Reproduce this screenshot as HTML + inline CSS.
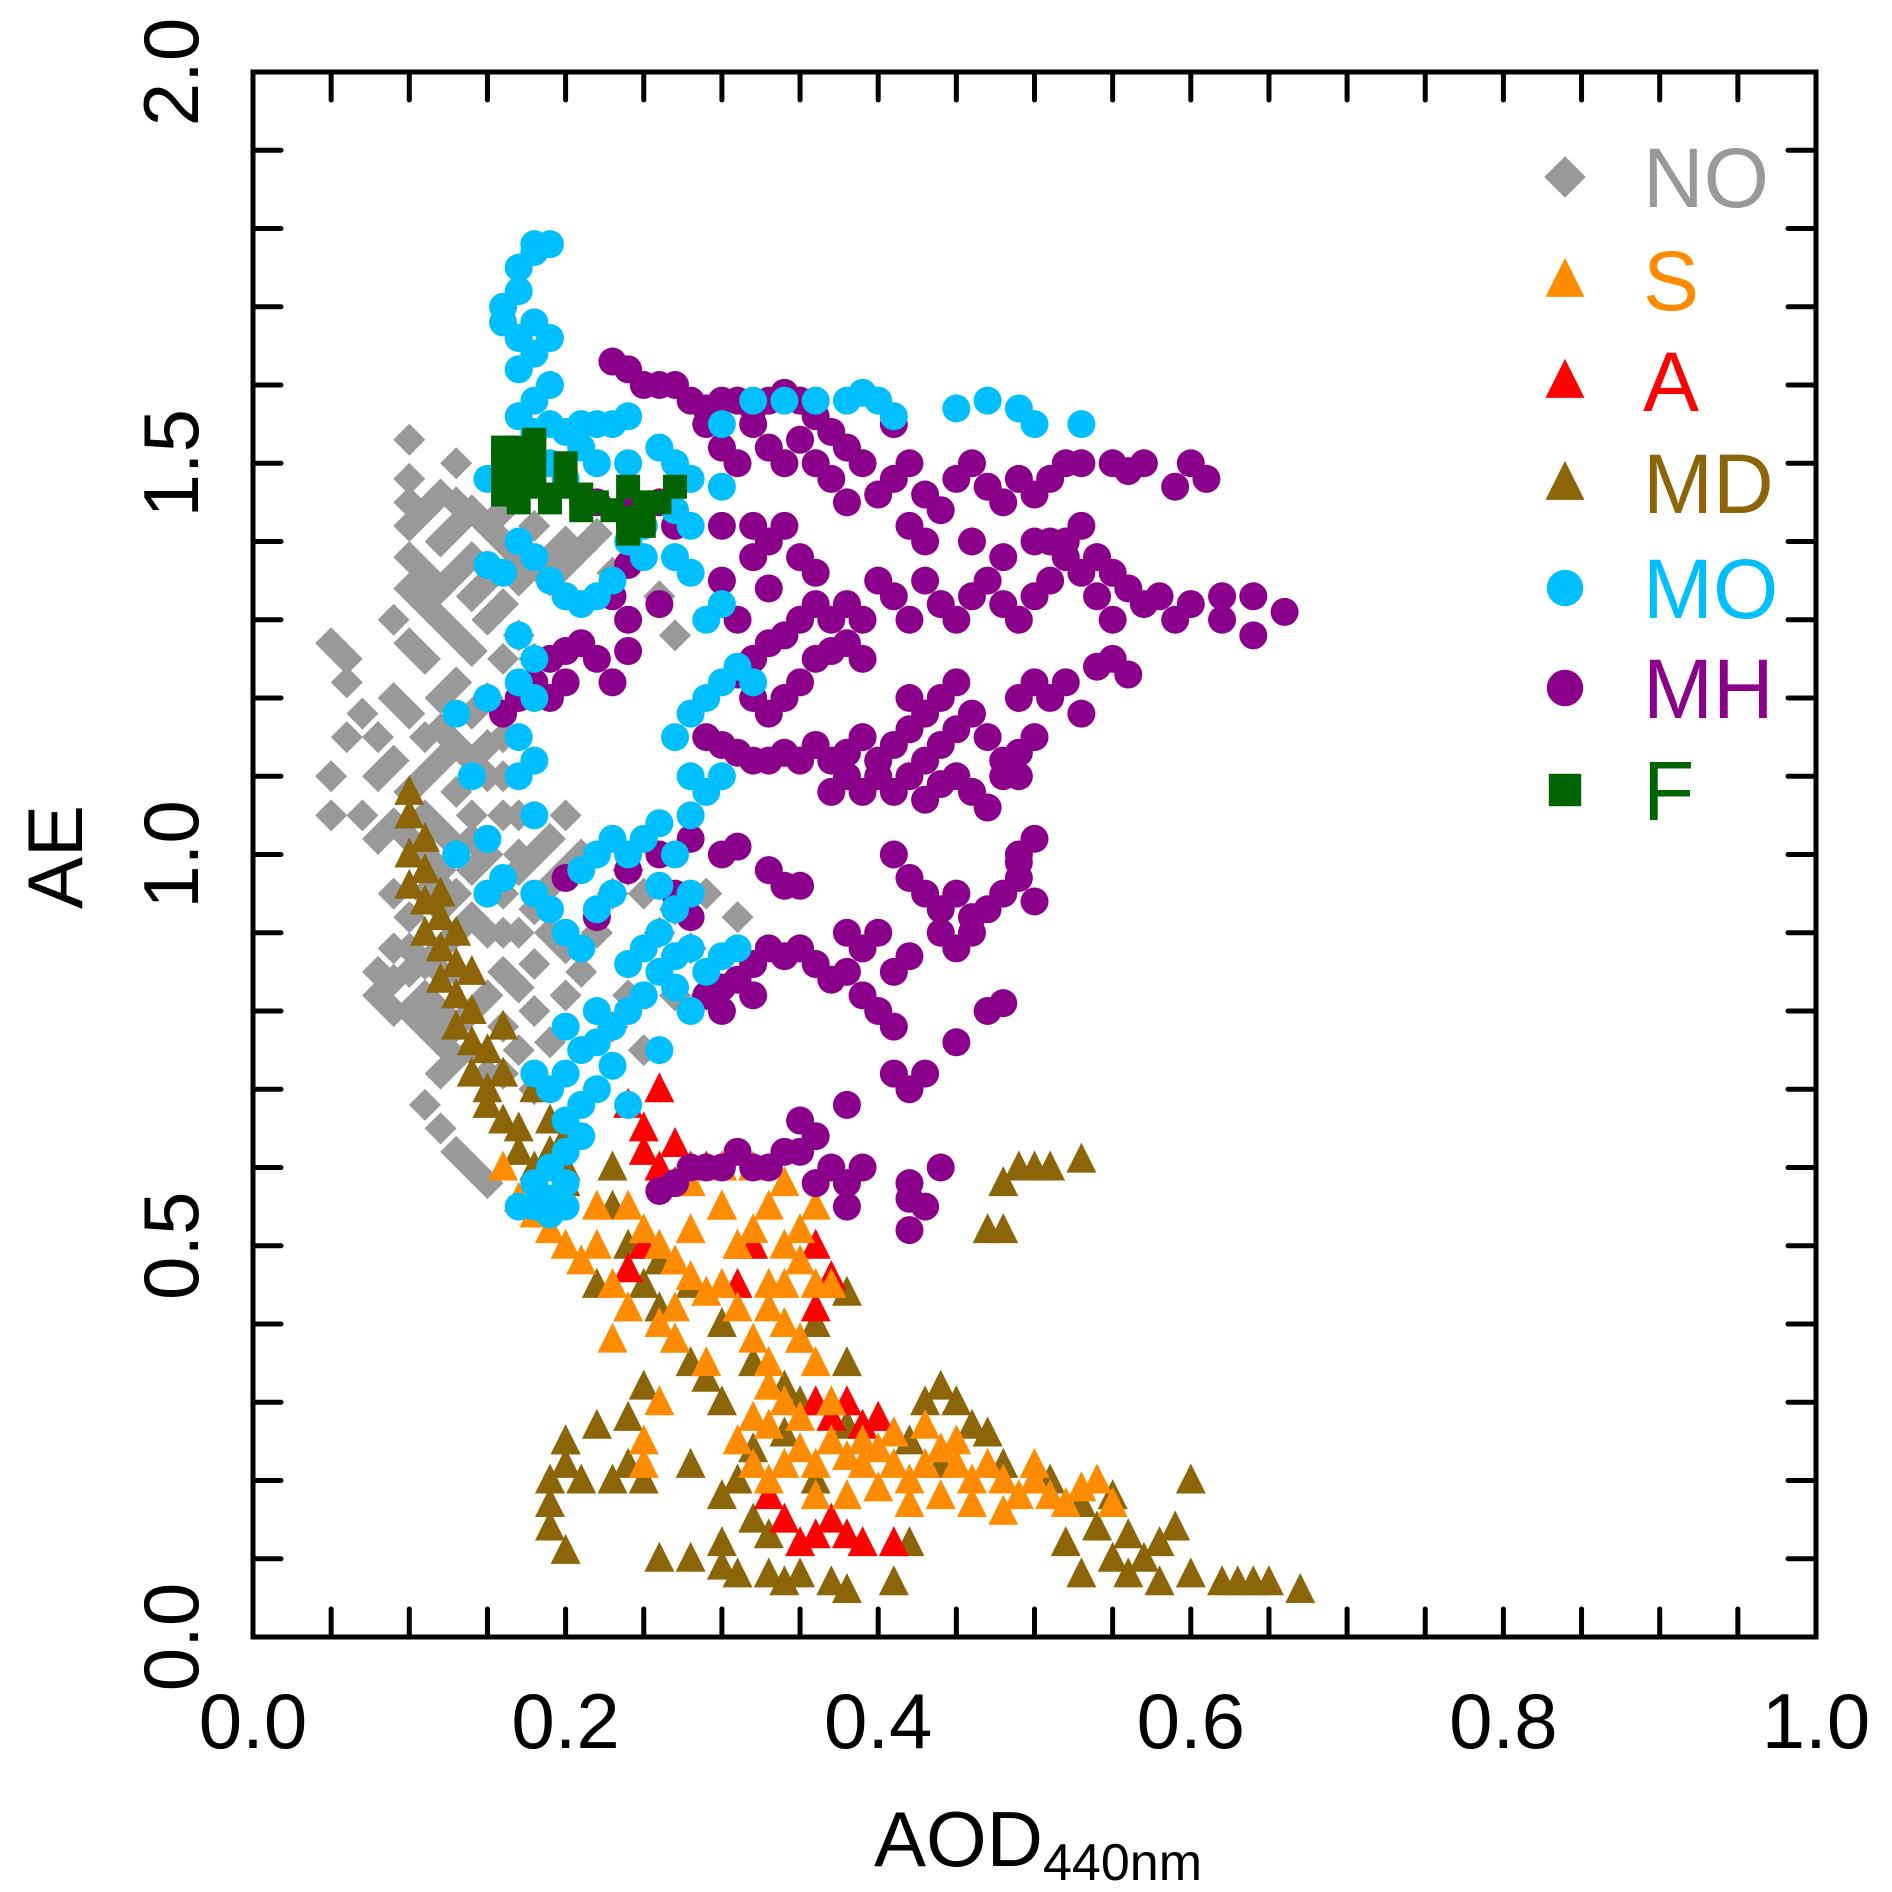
<!DOCTYPE html>
<html><head><meta charset="utf-8"><style>
html,body{margin:0;padding:0;background:#fff;}
svg{display:block;font-family:"Liberation Sans",Arial,sans-serif;}
</style></head><body>
<svg id="chart" width="1892" height="1892" viewBox="0 0 1892 1892" xmlns="http://www.w3.org/2000/svg">
<g id="marks"></g>
<g id="axes"></g>
<g id="legend"></g>
<text x="0" y="0" transform="translate(82,857) rotate(-90)" text-anchor="middle" font-size="78">AE</text>
<text x="1038" y="1866" text-anchor="middle" font-size="78">AOD<tspan font-size="52" dy="14">440nm</tspan></text>
</svg>
<script>
const xTicks=["0.0","0.2","0.4","0.6","0.8","1.0"];
const xTickVals=[0,0.2,0.4,0.6,0.8,1.0];
const yTicks=["0.0","0.5","1.0","1.5","2.0"];
const yTickVals=[0,0.5,1.0,1.5,2.0];
const seriesNames=["NO","S","A","MD","MO","MH","F"];
const noData=[[0.1,1.53],[0.1,1.48],[0.1,1.45],[0.1,1.42],[0.1,1.38],[0.1,1.34],[0.09,1.3],[0.1,1.27],[0.11,1.44],[0.12,1.46],[0.13,1.45],[0.14,1.44],[0.15,1.42],[0.16,1.4],[0.17,1.38],[0.18,1.37],[0.19,1.38],[0.2,1.4],[0.21,1.39],[0.22,1.41],[0.23,1.36],[0.12,1.4],[0.13,1.36],[0.14,1.33],[0.15,1.3],[0.16,1.32],[0.17,1.28],[0.18,1.25],[0.12,1.3],[0.11,1.25],[0.12,1.2],[0.13,1.22],[0.14,1.18],[0.15,1.2],[0.16,1.15],[0.1,1.18],[0.09,1.2],[0.08,1.15],[0.07,1.18],[0.06,1.22],[0.05,1.27],[0.06,1.25],[0.05,1.1],[0.05,1.05],[0.07,1.05],[0.08,1.1],[0.06,1.15],[0.09,1.12],[0.1,1.08],[0.11,1.1],[0.12,1.12],[0.13,1.08],[0.14,1.05],[0.15,1.1],[0.16,1.05],[0.15,1.0],[0.14,0.98],[0.12,0.98],[0.11,1.0],[0.1,1.02],[0.09,1.04],[0.08,1.02],[0.09,0.95],[0.1,0.92],[0.12,0.93],[0.13,0.9],[0.14,0.92],[0.16,0.95],[0.17,0.98],[0.18,1.0],[0.19,1.02],[0.2,0.98],[0.18,0.93],[0.19,0.9],[0.2,0.88],[0.21,0.85],[0.22,0.9],[0.23,0.95],[0.24,0.98],[0.25,0.95],[0.26,0.9],[0.27,0.93],[0.29,0.95],[0.31,0.92],[0.28,0.88],[0.27,0.82],[0.29,0.82],[0.24,0.82],[0.23,0.78],[0.25,0.75],[0.08,0.85],[0.09,0.8],[0.1,0.85],[0.11,0.82],[0.09,0.88],[0.12,0.8],[0.13,0.78],[0.14,0.8],[0.15,0.82],[0.16,0.85],[0.17,0.83],[0.18,0.8],[0.16,0.78],[0.14,0.75],[0.15,0.72],[0.12,0.72],[0.11,0.68],[0.12,0.65],[0.13,0.62],[0.14,0.6],[0.15,0.58],[0.18,0.7],[0.12,0.88],[0.13,0.85],[0.18,0.86],[0.2,0.82],[0.19,0.76],[0.2,1.05],[0.16,1.25],[0.17,1.35],[0.27,1.28],[0.26,1.33],[0.13,1.5],[0.21,1.0],[0.08,0.82],[0.11,1.36],[0.11,1.32],[0.12,1.34],[0.13,1.28],[0.14,1.26],[0.13,1.42],[0.14,1.38],[0.15,1.35],[0.11,1.15],[0.12,1.16],[0.13,1.14],[0.14,1.12],[0.15,1.14],[0.11,1.05],[0.12,1.03],[0.13,1.01],[0.14,1.02],[0.11,0.95],[0.12,0.96],[0.13,0.95],[0.15,0.9],[0.16,0.9],[0.17,0.9],[0.1,0.88],[0.11,0.86],[0.12,0.85],[0.1,0.8],[0.11,0.78],[0.13,0.74],[0.12,0.76],[0.17,0.75],[0.16,0.72],[0.09,0.84],[0.19,0.96],[0.17,1.0],[0.16,1.1],[0.17,1.05],[0.19,1.35],[0.2,1.37],[0.18,1.42],[0.16,1.44]];
const mdData=[[0.1,1.08],[0.1,1.05],[0.11,1.02],[0.1,1.0],[0.11,0.98],[0.1,0.96],[0.11,0.94],[0.12,0.92],[0.11,0.9],[0.12,0.88],[0.13,0.86],[0.12,0.84],[0.13,0.82],[0.14,0.8],[0.13,0.78],[0.14,0.76],[0.15,0.75],[0.14,0.72],[0.15,0.7],[0.16,0.72],[0.15,0.68],[0.16,0.66],[0.17,0.65],[0.17,0.62],[0.18,0.6],[0.19,0.62],[0.2,0.58],[0.2,0.64],[0.12,0.95],[0.13,0.9],[0.14,0.85],[0.16,0.78],[0.18,0.7],[0.19,0.66],[0.23,0.6],[0.23,0.55],[0.24,0.5],[0.25,0.45],[0.26,0.42],[0.27,0.38],[0.28,0.35],[0.29,0.33],[0.3,0.3],[0.28,0.45],[0.26,0.48],[0.3,0.4],[0.32,0.35],[0.34,0.32],[0.36,0.4],[0.37,0.45],[0.38,0.35],[0.25,0.32],[0.24,0.28],[0.22,0.27],[0.2,0.25],[0.2,0.22],[0.19,0.2],[0.19,0.17],[0.19,0.14],[0.2,0.25],[0.21,0.2],[0.2,0.11],[0.23,0.2],[0.24,0.22],[0.25,0.2],[0.28,0.22],[0.26,0.1],[0.28,0.1],[0.3,0.09],[0.31,0.08],[0.33,0.08],[0.34,0.07],[0.35,0.08],[0.37,0.07],[0.38,0.06],[0.3,0.12],[0.3,0.18],[0.31,0.2],[0.32,0.15],[0.33,0.13],[0.32,0.24],[0.34,0.26],[0.36,0.2],[0.38,0.27],[0.4,0.28],[0.42,0.25],[0.43,0.3],[0.44,0.32],[0.45,0.3],[0.46,0.27],[0.47,0.26],[0.48,0.22],[0.5,0.2],[0.51,0.2],[0.53,0.17],[0.52,0.12],[0.53,0.08],[0.55,0.1],[0.56,0.08],[0.57,0.1],[0.58,0.07],[0.58,0.12],[0.59,0.14],[0.6,0.08],[0.62,0.07],[0.63,0.07],[0.64,0.07],[0.65,0.07],[0.67,0.06],[0.56,0.13],[0.55,0.18],[0.54,0.14],[0.47,0.52],[0.48,0.52],[0.48,0.58],[0.49,0.6],[0.5,0.6],[0.51,0.6],[0.53,0.61],[0.3,0.55],[0.31,0.5],[0.2,0.6],[0.22,0.45],[0.35,0.3],[0.38,0.44],[0.41,0.07],[0.42,0.12],[0.6,0.2],[0.44,0.22]];
const aData=[[0.24,0.68],[0.25,0.65],[0.25,0.62],[0.26,0.7],[0.26,0.6],[0.27,0.58],[0.28,0.6],[0.29,0.6],[0.3,0.6],[0.27,0.63],[0.24,0.47],[0.25,0.5],[0.36,0.5],[0.37,0.46],[0.36,0.42],[0.35,0.38],[0.38,0.3],[0.39,0.27],[0.4,0.28],[0.41,0.26],[0.37,0.28],[0.36,0.3],[0.34,0.15],[0.35,0.12],[0.36,0.13],[0.37,0.15],[0.38,0.13],[0.39,0.12],[0.41,0.12],[0.33,0.18],[0.32,0.5],[0.31,0.45]];
const sData=[[0.16,0.6],[0.17,0.56],[0.18,0.54],[0.19,0.52],[0.2,0.5],[0.21,0.48],[0.22,0.5],[0.23,0.45],[0.24,0.42],[0.23,0.38],[0.22,0.55],[0.24,0.55],[0.25,0.52],[0.26,0.5],[0.27,0.48],[0.28,0.46],[0.29,0.44],[0.3,0.45],[0.31,0.5],[0.32,0.52],[0.33,0.55],[0.34,0.5],[0.35,0.48],[0.33,0.45],[0.31,0.42],[0.32,0.38],[0.33,0.35],[0.34,0.4],[0.35,0.38],[0.36,0.35],[0.34,0.3],[0.33,0.32],[0.32,0.28],[0.31,0.25],[0.32,0.22],[0.33,0.2],[0.34,0.22],[0.35,0.24],[0.36,0.22],[0.37,0.25],[0.38,0.23],[0.39,0.22],[0.4,0.24],[0.41,0.22],[0.42,0.2],[0.43,0.22],[0.44,0.24],[0.45,0.22],[0.46,0.2],[0.47,0.22],[0.48,0.2],[0.49,0.18],[0.5,0.2],[0.51,0.18],[0.52,0.17],[0.53,0.19],[0.54,0.2],[0.55,0.17],[0.36,0.18],[0.38,0.18],[0.4,0.19],[0.42,0.17],[0.44,0.18],[0.46,0.17],[0.48,0.16],[0.33,0.27],[0.35,0.28],[0.37,0.3],[0.29,0.35],[0.27,0.38],[0.26,0.3],[0.25,0.25],[0.25,0.22],[0.28,0.58],[0.3,0.6],[0.32,0.6],[0.34,0.58],[0.36,0.55],[0.35,0.52],[0.36,0.45],[0.37,0.45],[0.3,0.55],[0.28,0.52],[0.27,0.42],[0.26,0.4],[0.34,0.45],[0.33,0.42],[0.43,0.27],[0.41,0.26],[0.39,0.25],[0.45,0.25],[0.5,0.22]];
const mhData=[[0.23,1.63],[0.24,1.62],[0.25,1.6],[0.26,1.6],[0.27,1.6],[0.28,1.58],[0.29,1.57],[0.3,1.58],[0.31,1.58],[0.32,1.57],[0.33,1.58],[0.34,1.59],[0.35,1.58],[0.36,1.56],[0.37,1.54],[0.38,1.52],[0.39,1.5],[0.29,1.55],[0.3,1.52],[0.31,1.5],[0.32,1.55],[0.33,1.52],[0.34,1.5],[0.35,1.53],[0.36,1.5],[0.37,1.48],[0.38,1.45],[0.4,1.46],[0.41,1.48],[0.42,1.5],[0.43,1.46],[0.44,1.44],[0.45,1.48],[0.46,1.5],[0.47,1.47],[0.48,1.45],[0.49,1.48],[0.5,1.46],[0.51,1.48],[0.52,1.5],[0.53,1.5],[0.55,1.5],[0.56,1.49],[0.57,1.5],[0.6,1.5],[0.61,1.48],[0.59,1.47],[0.42,1.42],[0.43,1.4],[0.41,1.55],[0.26,1.45],[0.27,1.42],[0.24,1.44],[0.22,1.45],[0.3,1.42],[0.32,1.42],[0.33,1.4],[0.34,1.42],[0.35,1.38],[0.36,1.36],[0.32,1.38],[0.33,1.34],[0.31,1.3],[0.26,1.32],[0.24,1.37],[0.31,1.23],[0.32,1.25],[0.33,1.27],[0.34,1.28],[0.35,1.3],[0.36,1.32],[0.37,1.3],[0.38,1.32],[0.39,1.3],[0.4,1.35],[0.41,1.33],[0.42,1.3],[0.43,1.35],[0.44,1.32],[0.45,1.3],[0.46,1.33],[0.47,1.35],[0.48,1.32],[0.49,1.3],[0.5,1.33],[0.51,1.35],[0.52,1.38],[0.53,1.36],[0.54,1.33],[0.55,1.36],[0.56,1.34],[0.57,1.32],[0.58,1.33],[0.59,1.3],[0.6,1.32],[0.62,1.33],[0.64,1.33],[0.66,1.31],[0.5,1.4],[0.51,1.4],[0.52,1.4],[0.53,1.42],[0.54,1.38],[0.55,1.3],[0.46,1.4],[0.48,1.38],[0.32,1.2],[0.33,1.18],[0.34,1.2],[0.35,1.22],[0.36,1.25],[0.37,1.26],[0.38,1.27],[0.39,1.25],[0.64,1.28],[0.62,1.3],[0.17,1.2],[0.18,1.22],[0.19,1.25],[0.2,1.26],[0.21,1.27],[0.22,1.25],[0.23,1.22],[0.16,1.18],[0.24,1.26],[0.19,1.2],[0.2,1.22],[0.29,1.15],[0.3,1.14],[0.31,1.13],[0.32,1.12],[0.33,1.12],[0.34,1.13],[0.35,1.12],[0.36,1.14],[0.37,1.12],[0.38,1.13],[0.39,1.15],[0.4,1.12],[0.41,1.14],[0.42,1.16],[0.43,1.12],[0.44,1.14],[0.45,1.16],[0.46,1.18],[0.47,1.15],[0.48,1.12],[0.49,1.1],[0.5,1.15],[0.51,1.2],[0.52,1.22],[0.53,1.18],[0.54,1.24],[0.55,1.25],[0.56,1.23],[0.37,1.08],[0.38,1.1],[0.39,1.08],[0.4,1.1],[0.41,1.08],[0.42,1.1],[0.43,1.07],[0.44,1.09],[0.45,1.1],[0.46,1.08],[0.47,1.06],[0.48,1.1],[0.49,1.13],[0.42,1.2],[0.43,1.18],[0.44,1.2],[0.45,1.22],[0.49,1.2],[0.5,1.22],[0.41,1.0],[0.42,0.97],[0.43,0.95],[0.44,0.93],[0.45,0.95],[0.46,0.92],[0.47,0.93],[0.48,0.95],[0.49,0.97],[0.5,0.94],[0.49,1.0],[0.5,1.02],[0.49,0.99],[0.44,0.9],[0.45,0.88],[0.46,0.9],[0.38,0.9],[0.39,0.88],[0.4,0.9],[0.41,0.85],[0.42,0.87],[0.36,0.86],[0.37,0.84],[0.38,0.85],[0.35,0.88],[0.34,0.87],[0.33,0.88],[0.32,0.86],[0.31,0.84],[0.29,0.82],[0.3,0.8],[0.32,0.82],[0.39,0.82],[0.4,0.8],[0.41,0.78],[0.47,0.8],[0.48,0.81],[0.45,0.76],[0.42,0.7],[0.41,0.72],[0.43,0.72],[0.38,0.68],[0.36,0.64],[0.35,0.62],[0.34,0.62],[0.33,0.6],[0.32,0.6],[0.31,0.62],[0.3,0.6],[0.29,0.6],[0.28,0.6],[0.27,0.58],[0.26,0.57],[0.35,0.66],[0.36,0.58],[0.37,0.6],[0.38,0.58],[0.39,0.6],[0.38,0.55],[0.42,0.58],[0.43,0.55],[0.42,0.52],[0.44,0.6],[0.42,0.56],[0.26,1.0],[0.28,1.02],[0.3,1.0],[0.31,1.01],[0.33,0.98],[0.34,0.96],[0.27,0.95],[0.35,0.96],[0.24,0.98],[0.2,0.97],[0.22,0.92],[0.28,0.92],[0.3,0.83],[0.24,1.3],[0.23,1.33],[0.3,1.35]];
const moData=[[0.17,1.75],[0.18,1.77],[0.18,1.78],[0.19,1.78],[0.17,1.72],[0.16,1.7],[0.16,1.68],[0.17,1.66],[0.18,1.68],[0.19,1.66],[0.18,1.64],[0.17,1.62],[0.19,1.6],[0.18,1.58],[0.17,1.56],[0.18,1.54],[0.19,1.55],[0.2,1.54],[0.21,1.55],[0.22,1.55],[0.23,1.55],[0.24,1.56],[0.21,1.52],[0.19,1.5],[0.2,1.48],[0.17,1.5],[0.15,1.48],[0.22,1.5],[0.24,1.5],[0.26,1.52],[0.27,1.5],[0.28,1.48],[0.3,1.47],[0.27,1.44],[0.28,1.42],[0.27,1.38],[0.28,1.36],[0.24,1.4],[0.25,1.38],[0.23,1.35],[0.22,1.33],[0.21,1.32],[0.2,1.33],[0.19,1.35],[0.18,1.38],[0.17,1.4],[0.16,1.36],[0.15,1.37],[0.32,1.58],[0.34,1.58],[0.36,1.58],[0.38,1.58],[0.39,1.59],[0.4,1.58],[0.41,1.56],[0.45,1.57],[0.47,1.58],[0.49,1.57],[0.5,1.55],[0.53,1.55],[0.3,1.55],[0.17,1.28],[0.18,1.25],[0.17,1.22],[0.18,1.2],[0.17,1.15],[0.18,1.12],[0.17,1.1],[0.18,1.05],[0.14,1.1],[0.13,1.18],[0.15,1.2],[0.13,1.0],[0.15,1.02],[0.15,0.95],[0.16,0.97],[0.18,0.95],[0.19,0.93],[0.2,0.9],[0.21,0.88],[0.22,0.93],[0.23,0.95],[0.24,1.0],[0.23,1.02],[0.25,1.02],[0.26,1.04],[0.27,1.0],[0.26,0.96],[0.27,0.93],[0.28,0.95],[0.22,1.0],[0.21,0.98],[0.27,1.15],[0.28,1.18],[0.29,1.2],[0.3,1.22],[0.31,1.24],[0.32,1.22],[0.28,1.1],[0.29,1.08],[0.3,1.1],[0.28,1.05],[0.26,0.9],[0.25,0.88],[0.24,0.86],[0.26,0.85],[0.27,0.87],[0.28,0.88],[0.29,0.85],[0.3,0.87],[0.31,0.88],[0.27,0.83],[0.25,0.82],[0.24,0.8],[0.23,0.78],[0.22,0.76],[0.23,0.73],[0.22,0.7],[0.21,0.68],[0.2,0.66],[0.21,0.64],[0.2,0.62],[0.19,0.6],[0.2,0.58],[0.19,0.56],[0.18,0.55],[0.19,0.54],[0.2,0.55],[0.17,0.55],[0.18,0.58],[0.19,0.7],[0.18,0.72],[0.2,0.72],[0.21,0.75],[0.22,0.8],[0.24,0.68],[0.28,0.8],[0.26,0.75],[0.2,0.78],[0.25,1.42],[0.29,1.3],[0.3,1.32]];
const fData=[[0.16,1.5],[0.16,1.52],[0.16,1.48],[0.17,1.5],[0.17,1.52],[0.17,1.48],[0.17,1.45],[0.18,1.53],[0.18,1.5],[0.18,1.47],[0.19,1.45],[0.2,1.5],[0.2,1.47],[0.21,1.46],[0.21,1.44],[0.22,1.45],[0.23,1.44],[0.24,1.43],[0.24,1.47],[0.25,1.45],[0.24,1.41],[0.25,1.42],[0.26,1.45],[0.27,1.47],[0.19,1.46],[0.16,1.46]];

const NS="http://www.w3.org/2000/svg";
const L=253,R=1816,T=72,B=1637;
function sx(v){return L+(R-L)*v;}
function sy(v){return B-(B-T)*v/2;}
function mk(tag,attrs,parent){const e=document.createElementNS(NS,tag);for(const k in attrs)e.setAttribute(k,attrs[k]);parent.appendChild(e);return e;}
function marker(shape,cx,cy,color,parent){
  let e;const s=15;
  if(shape==="diamond")e=mk("polygon",{points:`${cx},${cy-s-1} ${cx+s+1},${cy} ${cx},${cy+s+1} ${cx-s-1},${cy}`,fill:color},parent);
  else if(shape==="tri")e=mk("polygon",{points:`${cx},${cy-s-2} ${cx+s},${cy+s-2} ${cx-s},${cy+s-2}`,fill:color},parent);
  else if(shape==="circle")e=mk("circle",{cx:cx,cy:cy,r:s-1,fill:color},parent);
  else e=mk("rect",{x:cx-12,y:cy-12,width:24,height:24,fill:color},parent);
  return e;
}
const series=[
 {name:"NO",data:noData,shape:"diamond",color:"#999999"},
 {name:"MD",data:mdData,shape:"tri",color:"#8b6508"},
 {name:"A",data:aData,shape:"tri",color:"#ff0000"},
 {name:"S",data:sData,shape:"tri",color:"#ff8c00"},
 {name:"MH",data:mhData,shape:"circle",color:"#8b008b"},
 {name:"MO",data:moData,shape:"circle",color:"#00bfff"},
 {name:"F",data:fData,shape:"square",color:"#006400"}
];
const marks=document.getElementById("marks");
series.forEach(s=>{
  const g=mk("g",{},marks);
  
  
  s.data.forEach(p=>{
    const e=marker(s.shape,sx(p[0]),sy(p[1]),s.color,g);
    
    
  });
});
const axes=document.getElementById("axes");
const frame=mk("rect",{x:L,y:T,width:R-L,height:B-T,fill:"none",stroke:"#000","stroke-width":5},axes);


const tl=28;
for(let i=0;i<=20;i++){const x=sx(i*0.05);
  mk("line",{x1:x,y1:B,x2:x,y2:B-tl,stroke:"#000","stroke-width":5,"stroke-linecap":"round"},axes);
  mk("line",{x1:x,y1:T,x2:x,y2:T+tl,stroke:"#000","stroke-width":5,"stroke-linecap":"round"},axes);}
for(let i=0;i<=20;i++){const y=sy(i*0.1);
  mk("line",{x1:L,y1:y,x2:L+tl,y2:y,stroke:"#000","stroke-width":5,"stroke-linecap":"round"},axes);
  mk("line",{x1:R,y1:y,x2:R-tl,y2:y,stroke:"#000","stroke-width":5,"stroke-linecap":"round"},axes);}
xTicks.forEach((t,i)=>{
  const e=mk("text",{x:sx(xTickVals[i]),y:1748,"text-anchor":"middle","font-size":78},axes);
  e.textContent=t;
  
  
});
yTicks.forEach((t,i)=>{
  const e=mk("text",{x:0,y:0,transform:`translate(198,${sy(yTickVals[i])}) rotate(-90)`,"text-anchor":"middle","font-size":78},axes);
  e.textContent=t;
  
  
});
const legend=document.getElementById("legend");
const legOrder=[["NO","diamond","#999999"],["S","tri","#ff8c00"],["A","tri","#ff0000"],["MD","tri","#8b6508"],["MO","circle","#00bfff"],["MH","circle","#8b008b"],["F","square","#006400"]];
const legY=[177,280,381,483,588,688,790];
legOrder.forEach((l,i)=>{
  const g=mk("g",{},legend);
  
  
  const m=marker(l[1],1565,legY[i],l[2],g);
  const sc=l[1]==="square"?1.35:1.3;
  m.setAttribute("transform",`translate(1565,${legY[i]}) scale(${sc}) translate(-1565,${-legY[i]})`);
  const t=mk("text",{x:1643,y:legY[i]+30,"font-size":84,fill:l[2]},g);
  t.textContent=l[0];
});
</script>
</body></html>
